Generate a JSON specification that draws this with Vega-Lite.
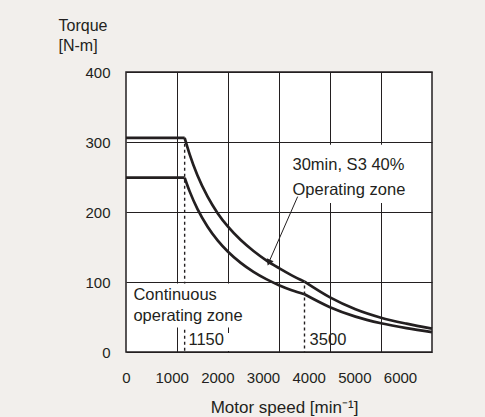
{
  "$schema": "https://vega.github.io/schema/vega-lite/v6.json",
  "width": 306,
  "height": 280,
  "autosize": "none",
  "padding": {"left": 126, "top": 72, "right": 53, "bottom": 65},
  "background": "#f2efec",
  "config": {
    "view": {"fill": "white", "stroke": "#231f20", "strokeWidth": 1.5},
    "font": "Liberation Sans"
  },
  "datasets": {
    "markers": [
      {"speed": 1150, "top": 306, "bottom": 0},
      {"speed": 3500, "top": 95, "bottom": 0}
    ],
    "boxes": [
      {"x0": 40, "x1": 2450, "t0": 98, "t1": 35},
      {"x0": 1220, "x1": 2350, "t0": 27, "t1": 1.5},
      {"x0": 3250, "x1": 5550, "t0": 296, "t1": 213}
    ],
    "labels": [
      {"text": "30min, S3 40%", "speed": 3265, "torque": 267},
      {"text": "Operating zone", "speed": 3265, "torque": 232},
      {"text": "Continuous", "speed": 145, "torque": 81},
      {"text": "operating zone", "speed": 145, "torque": 52},
      {"text": "1150", "speed": 1225, "torque": 17},
      {"text": "3500", "speed": 3600, "torque": 17}
    ],
    "arrow": [{"x0": 3366, "y0": 222, "x1": 2800, "y1": 128}],
    "head": [{"speed": 2802, "torque": 127.7}],
    "curves": [
      {"seg": "ua", "speed": 0, "torque": 306},
      {"seg": "ua", "speed": 1150, "torque": 306},
      {"seg": "ub", "speed": 1150, "torque": 306},
      {"seg": "ub", "speed": 1250, "torque": 282},
      {"seg": "ub", "speed": 1400, "torque": 252.4},
      {"seg": "ub", "speed": 1600, "torque": 221.9},
      {"seg": "ub", "speed": 1800, "torque": 198},
      {"seg": "ub", "speed": 2000, "torque": 179},
      {"seg": "ub", "speed": 2250, "torque": 159.9},
      {"seg": "ub", "speed": 2500, "torque": 144.3},
      {"seg": "ub", "speed": 2750, "torque": 131},
      {"seg": "ub", "speed": 3000, "torque": 119.8},
      {"seg": "ub", "speed": 3250, "torque": 109.5},
      {"seg": "ub", "speed": 3500, "torque": 100.5},
      {"seg": "uc", "speed": 3500, "torque": 100.5},
      {"seg": "uc", "speed": 4000, "torque": 78},
      {"seg": "uc", "speed": 4500, "torque": 61},
      {"seg": "uc", "speed": 5000, "torque": 49},
      {"seg": "uc", "speed": 5500, "torque": 40.5},
      {"seg": "uc", "speed": 6000, "torque": 33.5},
      {"seg": "la", "speed": 0, "torque": 249},
      {"seg": "la", "speed": 1150, "torque": 249},
      {"seg": "lb", "speed": 1150, "torque": 249},
      {"seg": "lb", "speed": 1250, "torque": 229.1},
      {"seg": "lb", "speed": 1400, "torque": 204.5},
      {"seg": "lb", "speed": 1600, "torque": 179},
      {"seg": "lb", "speed": 1800, "torque": 159.1},
      {"seg": "lb", "speed": 2000, "torque": 143.2},
      {"seg": "lb", "speed": 2250, "torque": 127.3},
      {"seg": "lb", "speed": 2500, "torque": 114.5},
      {"seg": "lb", "speed": 2750, "torque": 104.1},
      {"seg": "lb", "speed": 3000, "torque": 95.5},
      {"seg": "lb", "speed": 3250, "torque": 88.3},
      {"seg": "lb", "speed": 3500, "torque": 82.5},
      {"seg": "lc", "speed": 3500, "torque": 82.5},
      {"seg": "lc", "speed": 4000, "torque": 64},
      {"seg": "lc", "speed": 4500, "torque": 50.5},
      {"seg": "lc", "speed": 5000, "torque": 41},
      {"seg": "lc", "speed": 5500, "torque": 34},
      {"seg": "lc", "speed": 6000, "torque": 28.5}
    ],
    "labelscale": [{"s": 0}, {"s": 6700}]
  },
  "layer": [
    {
      "layer": [
        {
          "data": {"name": "markers"},
          "mark": {"type": "rule", "strokeDash": [3, 3], "strokeWidth": 1.4, "color": "#231f20"},
          "encoding": {
            "x": {
              "field": "speed", "type": "quantitative",
              "scale": {"domain": [0, 6000], "nice": false},
              "axis": {
                "orient": "bottom", "values": [1000, 2000, 3000, 4000, 5000],
                "grid": true, "gridColor": "#231f20", "gridWidth": 1, "gridOpacity": 1,
                "labels": false, "ticks": false, "domain": false, "title": null
              }
            },
            "y": {
              "field": "top", "type": "quantitative",
              "scale": {"domain": [0, 400], "nice": false},
              "axis": {
                "values": [0, 100, 200, 300, 400], "format": "d",
                "grid": true, "gridColor": "#231f20", "gridWidth": 1, "gridOpacity": 1,
                "ticks": false, "tickSize": 0, "domain": false, "labelFlush": false,
                "labelPadding": 16, "labelFontSize": 15, "labelColor": "#231f20",
                "labelFont": "Liberation Sans",
                "title": ["Torque", "[N-m]"],
                "titleAngle": 0, "titleAlign": "left", "titleBaseline": "alphabetic",
                "titleX": -68, "titleY": -42, "titleLineHeight": 20,
                "titleFontSize": 16, "titleFontWeight": "normal", "titleColor": "#231f20",
                "titleFont": "Liberation Sans"
              }
            },
            "y2": {"field": "bottom"}
          }
        },
        {
          "data": {"name": "boxes"},
          "mark": {"type": "rect", "fill": "white"},
          "encoding": {
            "x": {"field": "x0", "type": "quantitative", "scale": {"domain": [0, 6000], "nice": false}},
            "x2": {"field": "x1"},
            "y": {"field": "t0", "type": "quantitative", "scale": {"domain": [0, 400], "nice": false}},
            "y2": {"field": "t1"}
          }
        },
        {
          "data": {"name": "labels"},
          "mark": {"type": "text", "align": "left", "baseline": "middle", "fontSize": 16.5, "color": "#231f20", "font": "Liberation Sans"},
          "encoding": {
            "x": {"field": "speed", "type": "quantitative", "scale": {"domain": [0, 6000], "nice": false}},
            "y": {"field": "torque", "type": "quantitative", "scale": {"domain": [0, 400], "nice": false}},
            "text": {"field": "text"}
          }
        },
        {
          "data": {"name": "arrow"},
          "mark": {"type": "rule", "strokeWidth": 1, "color": "#231f20"},
          "encoding": {
            "x": {"field": "x0", "type": "quantitative", "scale": {"domain": [0, 6000], "nice": false}},
            "x2": {"field": "x1"},
            "y": {"field": "y0", "type": "quantitative", "scale": {"domain": [0, 400], "nice": false}},
            "y2": {"field": "y1"}
          }
        },
        {
          "data": {"name": "head"},
          "mark": {"type": "point", "shape": "triangle-up", "filled": true, "angle": 204, "size": 55, "color": "#231f20", "opacity": 1},
          "encoding": {
            "x": {"field": "speed", "type": "quantitative", "scale": {"domain": [0, 6000], "nice": false}},
            "y": {"field": "torque", "type": "quantitative", "scale": {"domain": [0, 400], "nice": false}}
          }
        },
        {
          "data": {"name": "curves"},
          "mark": {"type": "line", "interpolate": "monotone", "strokeWidth": 2.7, "color": "#231f20"},
          "encoding": {
            "x": {"field": "speed", "type": "quantitative", "scale": {"domain": [0, 6000], "nice": false}},
            "y": {"field": "torque", "type": "quantitative", "scale": {"domain": [0, 400], "nice": false}},
            "detail": {"field": "seg"}
          }
        }
      ]
    },
    {
      "data": {"name": "labelscale"},
      "mark": {"type": "point", "opacity": 0},
      "encoding": {
        "x": {
          "field": "s", "type": "quantitative",
          "scale": {"domain": [0, 6700], "nice": false},
          "axis": {
            "orient": "bottom", "values": [0, 1000, 2000, 3000, 4000, 5000, 6000], "format": "d",
            "grid": false, "ticks": false, "tickSize": 0, "domain": false, "labelFlush": false,
            "labelPadding": 18, "labelFontSize": 15, "labelColor": "#231f20",
            "labelFont": "Liberation Sans",
            "title": "Motor speed [min⁻¹]",
            "titleFontSize": 17, "titleFontWeight": "normal", "titleColor": "#231f20",
            "titleFont": "Liberation Sans",
            "titleAlign": "center", "titleBaseline": "alphabetic",
            "titleX": 158, "titleY": 60
          }
        }
      }
    }
  ],
  "resolve": {"scale": {"x": "independent"}}
}
